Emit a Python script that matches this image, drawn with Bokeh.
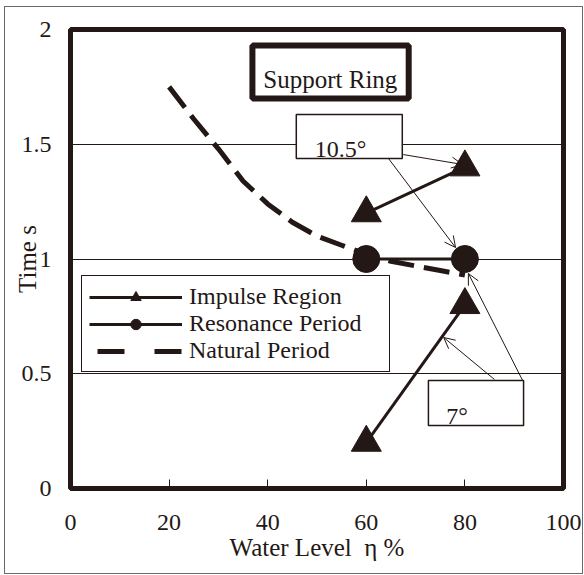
from bokeh.plotting import figure
from bokeh.models import (Range1d, FixedTicker, Legend, LegendItem, BoxAnnotation,
                          Label, Arrow, OpenHead, InlineStyleSheet)
from bokeh.embed import file_html
from bokeh.resources import INLINE

INK = "#231815"
SERIF = "Liberation Serif"

# Impulse region: water level (%) and time (s) for the two excitation angles
impulse_level = [60, 80]
impulse_105 = [1.2, 1.4]   # 10.5 deg
impulse_7 = [0.2, 0.8]     # 7 deg

# Resonance period
resonance_level = [60, 80]
resonance_period = [1.0, 1.0]

# Natural sloshing period against water level
natural_level = [20, 25, 30, 35, 40, 45, 50, 55, 60, 65, 70, 75, 80]
natural_period = [1.75, 1.61, 1.48, 1.34, 1.24, 1.16, 1.10, 1.06, 1.02, 0.99, 0.97, 0.95, 0.93]

x_ticks = [0, 20, 40, 60, 80, 100]
y_ticks = [0, 0.5, 1, 1.5, 2]
y_tick_labels = ["0", "0.5", "1", "1.5", "2"]

p = figure(width=584, height=575, x_range=Range1d(0, 100), y_range=Range1d(0, 2),
           output_backend="svg", toolbar_location=None,
           min_border_left=70, min_border_right=21, min_border_top=29, min_border_bottom=87)
p.background_fill_color = "white"
p.border_fill_color = "white"
p.outline_line_color = INK
p.outline_line_width = 5

# thin frame around the whole figure
p.stylesheets = [InlineStyleSheet(css="""
:host { position: relative; }
:host::after {
  content: "";
  position: absolute;
  left: 4px; top: 6px; right: 1px; bottom: 1px;
  border: 1px solid #6a6a6a;
  pointer-events: none;
  z-index: 100;
}
""")]

p.xgrid.visible = False
p.ygrid.ticker = FixedTicker(ticks=y_ticks)
p.ygrid.grid_line_color = INK
p.ygrid.grid_line_width = 1

xa = p.xaxis[0]
xa.ticker = FixedTicker(ticks=x_ticks)
xa.axis_line_color = None
xa.major_tick_in = 9
xa.major_tick_out = 0
xa.major_tick_line_color = INK
xa.minor_tick_line_color = None
xa.major_label_text_font = SERIF
xa.major_label_text_font_size = "24px"
xa.major_label_text_color = INK
xa.major_label_standoff = 26
xa.axis_label = "Water Level\u00a0 η %"
xa.axis_label_text_font = SERIF
xa.axis_label_text_font_size = "25px"
xa.axis_label_text_font_style = "normal"
xa.axis_label_text_color = INK
xa.axis_label_standoff = 1

ya = p.yaxis[0]
ya.ticker = FixedTicker(ticks=y_ticks)
ya.major_label_overrides = dict(zip(y_ticks, y_tick_labels))
ya.axis_line_color = None
ya.major_tick_in = 0
ya.major_tick_out = 0
ya.major_tick_line_color = None
ya.minor_tick_line_color = None
ya.minor_tick_in = 0
ya.minor_tick_out = 0
ya.major_label_text_font = SERIF
ya.major_label_text_font_size = "24px"
ya.major_label_text_color = INK
ya.major_label_standoff = 19
ya.axis_label = "Time s"
ya.axis_label_text_font = SERIF
ya.axis_label_text_font_size = "25px"
ya.axis_label_text_font_style = "normal"
ya.axis_label_text_color = INK
ya.axis_label_standoff = -22

# data series
r_nat = p.line(natural_level, natural_period, line_color=INK, line_width=5, line_dash="26 10")
r_res_line = p.line(resonance_level, resonance_period, line_color=INK, line_width=3)
r_res_pts = p.scatter(resonance_level, resonance_period, marker="circle", size=27,
                      fill_color=INK, line_color=INK)
r_imp_a_line = p.line(impulse_level, impulse_105, line_color=INK, line_width=3)
r_imp_a_pts = p.scatter(impulse_level, impulse_105, marker="triangle", size=30,
                        fill_color=INK, line_color=INK)
r_imp_b_line = p.line(impulse_level, impulse_7, line_color=INK, line_width=3)
r_imp_b_pts = p.scatter(impulse_level, impulse_7, marker="triangle", size=30,
                        fill_color=INK, line_color=INK)
# key sample for the dashed natural-period curve (no visible points of its own)
nan = float("nan")
r_nat_key = p.line(x=[nan, nan], y=[nan, nan], line_color=INK, line_width=5,
                   line_dash="27 30", line_dash_offset=49)

# call-out arrows
for xs, ys, xe, ye in [(67.5, 1.455, 79.5, 1.412), (64.5, 1.438, 78.1, 1.05),
                       (86.0, 0.475, 75.7, 0.658), (91.7, 0.471, 80.7, 0.937)]:
    p.add_layout(Arrow(end=OpenHead(size=11, line_color=INK, line_width=1),
                       x_start=xs, y_start=ys, x_end=xe, y_end=ye,
                       line_color=INK, line_width=1))

# boxed captions
for left, right, top, bottom, lw in [(36.9, 68.6, 1.930, 1.699, 6),
                                     (45.8, 67.3, 1.63, 1.438, 1.5),
                                     (72.6, 91.9, 0.471, 0.275, 1.5)]:
    p.add_layout(BoxAnnotation(left=left, right=right, top=top, bottom=bottom,
                               fill_color="white", fill_alpha=1,
                               line_color=INK, line_alpha=1, line_width=lw))

for x, y, txt, size in [(52.7, 1.782, "Support Ring", "25px"),
                        (54.8, 1.481, "10.5°", "24px"),
                        (78.4, 0.318, "7°", "24px")]:
    p.add_layout(Label(x=x, y=y, text=txt, text_align="center", text_baseline="alphabetic",
                       text_font=SERIF, text_font_size=size, text_color=INK))

legend = Legend(items=[LegendItem(label="Impulse Region", renderers=[r_imp_a_line, r_imp_a_pts]),
                       LegendItem(label="Resonance Period", renderers=[r_res_line, r_res_pts]),
                       LegendItem(label="Natural Period", renderers=[r_nat_key])],
                location=(11, 116), glyph_width=93, glyph_height=26, label_height=26,
                spacing=0, padding=7, label_standoff=7, label_width=193, margin=0,
                label_text_font=SERIF, label_text_font_size="24px", label_text_color=INK,
                border_line_color=INK, border_line_width=1, border_line_alpha=1,
                background_fill_color="white", background_fill_alpha=1)
p.add_layout(legend)

open("out.html", "w").write(file_html(p, INLINE))
